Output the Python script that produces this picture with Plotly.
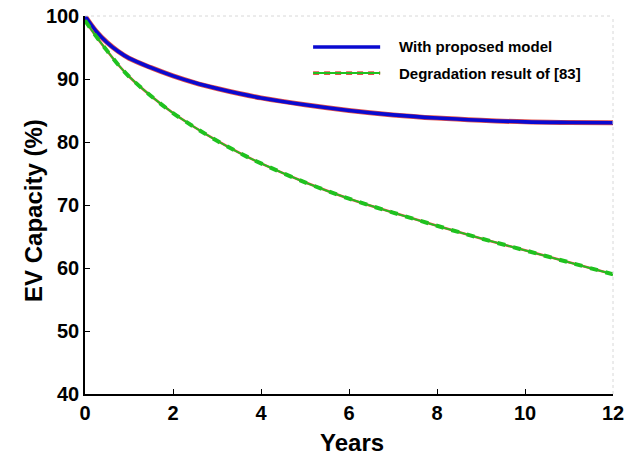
import plotly.graph_objects as go

# Capacity fade over the battery life (years vs. remaining capacity, %)
years = [0, 0.25, 0.5, 0.75, 1, 1.5, 2, 2.5, 3, 3.5, 4, 5, 6, 7, 8, 9, 10, 11, 12]
proposed_model = [100, 97.6, 95.8, 94.4, 93.3, 91.8, 90.5, 89.4, 88.5, 87.7,
                  87.0, 85.9, 85.0, 84.3, 83.8, 83.45, 83.2, 83.1, 83.05]
reference_83 = [99.3, 96.8, 94.5, 92.3, 90.4, 87.3, 84.6, 82.3, 80.2, 78.3,
                76.6, 73.6, 71.0, 68.8, 66.7, 64.7, 62.8, 60.9, 59.0]

legend_names = ["With proposed model", "Degradation result of [83]"]
x_title = "Years"
y_title = "EV Capacity (%)"
x_ticks = [0, 2, 4, 6, 8, 10, 12]
y_ticks = [40, 50, 60, 70, 80, 90, 100]

BLUE = "#0a0ad0"
GREEN = "#1fc21f"
RED = "#e0504a"
FONT = "Arial"

fig = go.Figure()

# proposed model: thin red edge under a thick blue line
fig.add_trace(go.Scatter(x=years, y=proposed_model, mode="lines",
                         line=dict(color=RED, width=5, shape="spline"),
                         hoverinfo="skip", showlegend=False))
fig.add_trace(go.Scatter(x=years, y=proposed_model, mode="lines",
                         name=legend_names[0],
                         line=dict(color=BLUE, width=3.6, shape="spline"),
                         showlegend=False))

# reference result: red edge, green line, green dashes on top
fig.add_trace(go.Scatter(x=years, y=reference_83, mode="lines",
                         line=dict(color=RED, width=2.6, shape="spline"),
                         hoverinfo="skip", showlegend=False))
fig.add_trace(go.Scatter(x=years, y=reference_83, mode="lines",
                         name=legend_names[1],
                         line=dict(color=GREEN, width=1.8, shape="spline"),
                         showlegend=False))
fig.add_trace(go.Scatter(x=years, y=reference_83, mode="lines",
                         line=dict(color=GREEN, width=4, shape="spline",
                                   dash="8px,8px"),
                         hoverinfo="skip", showlegend=False))

axis_common = dict(
    showline=True, linecolor="black", linewidth=1.5,
    ticks="inside", ticklen=5, tickwidth=1, tickcolor="black",
    showgrid=False, zeroline=False, automargin=False,
    tickfont=dict(family=FONT, size=20, color="black", weight="bold"),
)

fig.update_xaxes(range=[0, 12], tickvals=x_ticks, **axis_common)
fig.update_yaxes(range=[40, 100], tickvals=y_ticks, **axis_common)

shapes = [
    # faint top and right frame
    dict(type="line", xref="paper", yref="paper", x0=0, x1=1, y0=1, y1=1,
         line=dict(color="#d8d8d8", width=1, dash="dot")),
    dict(type="line", xref="paper", yref="paper", x0=1, x1=1, y0=0, y1=1,
         line=dict(color="#d8d8d8", width=1, dash="dot")),
    # legend samples
    dict(type="line", xref="paper", yref="paper", x0=0.432, x1=0.559,
         y0=0.918, y1=0.918, line=dict(color=BLUE, width=3.6)),
    dict(type="line", xref="paper", yref="paper", x0=0.432, x1=0.559,
         y0=0.849, y1=0.849, line=dict(color=RED, width=3.6, dash="6px,5px")),
    dict(type="line", xref="paper", yref="paper", x0=0.432, x1=0.559,
         y0=0.849, y1=0.849, line=dict(color=GREEN, width=2)),
]

title_font = dict(family=FONT, size=24, color="black", weight="bold")
legend_font = dict(family=FONT, size=15, color="black", weight="bold")

annotations = [
    dict(xref="paper", yref="paper", x=0.591, y=0.918, text=legend_names[0],
         showarrow=False, xanchor="left", yanchor="middle", font=legend_font),
    dict(xref="paper", yref="paper", x=0.591, y=0.849, text=legend_names[1],
         showarrow=False, xanchor="left", yanchor="middle", font=legend_font),
    # axis titles
    dict(xref="paper", yref="paper", x=0.505, y=-0.127, text=x_title,
         showarrow=False, xanchor="center", yanchor="middle", font=title_font),
    dict(xref="paper", yref="paper", x=-0.0966, y=0.487, text=y_title,
         textangle=-90, showarrow=False, xanchor="center", yanchor="middle",
         font=title_font),
]

fig.update_layout(
    width=638, height=457,
    margin=dict(l=85, r=25, t=16, b=63),
    paper_bgcolor="white", plot_bgcolor="white",
    shapes=shapes, annotations=annotations,
    showlegend=False,
)

fig.write_html("out.html")
